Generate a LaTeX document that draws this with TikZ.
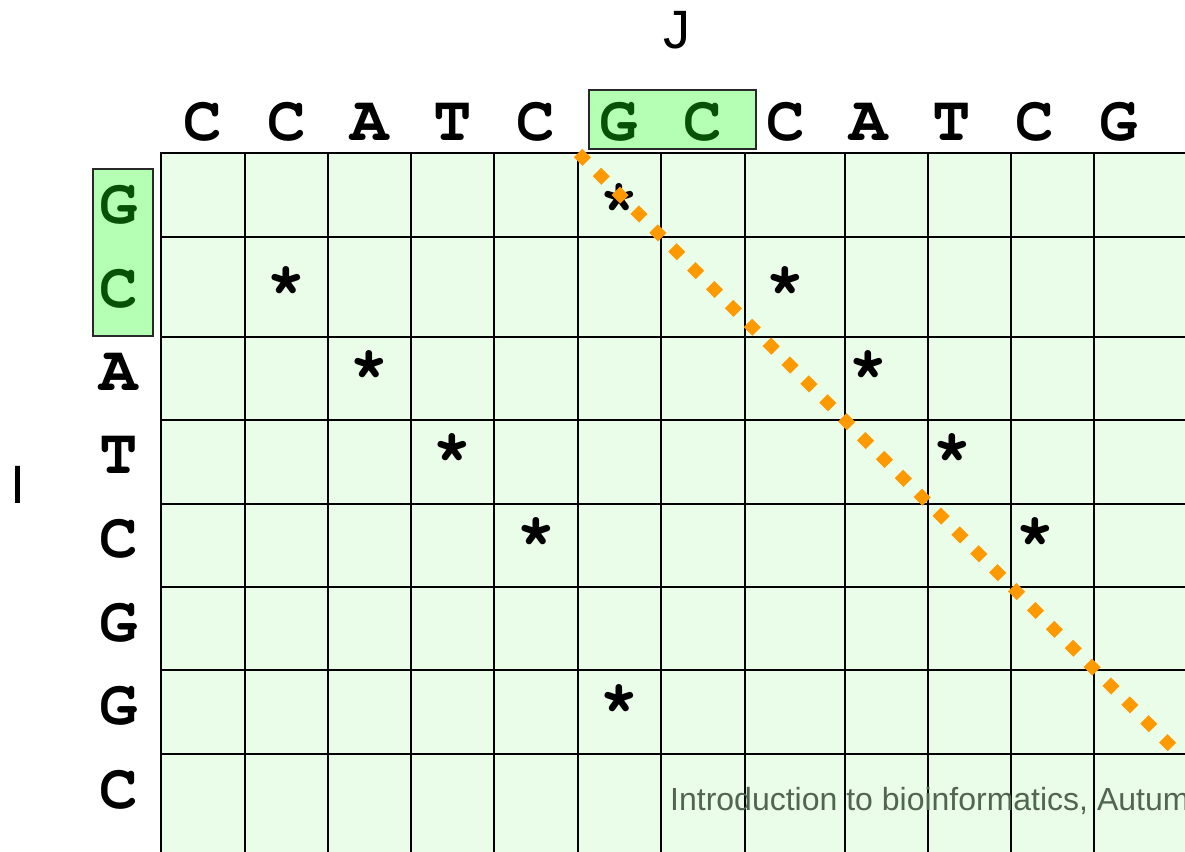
\documentclass[tikz,border=0pt]{standalone}
\usepackage[T1,TU]{fontenc}
\usepackage{fontspec}
\setmainfont{Liberation Sans}
\newcommand{\seqfont}{\fontencoding{T1}\fontfamily{pcr}\fontseries{b}\selectfont}

\definecolor{cellfill}{RGB}{233,253,233}
\definecolor{hlfill}{RGB}{180,255,180}
\definecolor{hltext}{RGB}{8,80,8}
\definecolor{boxedge}{RGB}{40,40,40}
\definecolor{dotorange}{RGB}{255,153,0}
\definecolor{footgray}{RGB}{80,102,80}

\begin{document}
\begin{tikzpicture}[x=1pt,y=-1pt,
  seq/.style={font=\fontsize{64}{64}\seqfont, inner sep=0pt, text=black},
  seqhl/.style={seq, text=hltext},
  star/.style={font=\fontsize{66}{66}\seqfont, inner sep=0pt},
  axislabel/.style={font=\fontsize{54}{54}\selectfont, inner sep=0pt},
  hlbox/.style={fill=hlfill, draw=boxedge, line width=1.8pt},
  gridline/.style={draw=black, line width=2pt},
  diagdots/.style={draw=dotorange, line width=12pt, line cap=butt, dash pattern=on 12.3pt off 14.4pt},
]
\useasboundingbox (0,0) rectangle (1185,851);
\begin{scope}
\clip (0,0) rectangle (1185,851);

% dot-plot matrix
\fill[cellfill] (161,153) rectangle (1190,856);
\foreach \yy in {153,237,337,420,504,587,670,754}
  \draw[gridline] (161,\yy) -- (1190,\yy);
\foreach \xx in {161,245,328,411,494,578,661,745,845,928,1011,1094}
  \draw[gridline] (\xx,152) -- (\xx,856);

% highlighted GC in both sequences
\draw[hlbox] (589,90) rectangle (756,149);
\draw[hlbox] (93,169) rectangle (153,336);

% horizontal sequence (J)
\foreach \ch [count=\k from 0] in {C,C,A,T,C,G,C,C,A,T,C,G}{
  \pgfmathsetmacro{\cx}{203+83.2*\k}
  \ifnum\k=5 \node[seqhl] (j\k) at (\cx,122.5) {\ch};
  \else\ifnum\k=6 \node[seqhl] (j\k) at (\cx,122.5) {\ch};
  \else \node[seq] (j\k) at (\cx,122.5) {\ch};\fi\fi
}

% vertical sequence (I)
\foreach \ch [count=\k from 0] in {G,C,A,T,C,G,G,C}{
  \pgfmathsetmacro{\cy}{205.5+83.5*\k}
  \ifnum\k<2 \node[seqhl] (i\k) at (119,\cy) {\ch};
  \else \node[seq] (i\k) at (119,\cy) {\ch};\fi
}

% matches
\foreach \r/\c in {0/5,1/1,1/7,2/2,2/8,3/3,3/9,4/4,4/10,6/5}{
  \pgfmathsetmacro{\sx}{203+83.2*\c}
  \pgfmathsetmacro{\sy}{205.5+83.5*\r-6}
  \node[star] (m\r-\c) at (\sx,\sy) {*};
}

% diagonal of the matching region
\coordinate (dstart) at (578,153);
\coordinate (dend) at (1173,748);
\draw[diagdots] (dstart) -- (dend);

% axis labels
\node[axislabel] (jlabel) at (677,30) {J};
\node[axislabel] (ilabel) at (18,484.5) {I};

% footer
\node[anchor=base west, inner sep=0pt, text=footgray, font=\fontsize{32}{32}\selectfont] (foot) at (670,810) {Introduction to bioinformatics, Autum};
\end{scope}
\end{tikzpicture}
\end{document}
